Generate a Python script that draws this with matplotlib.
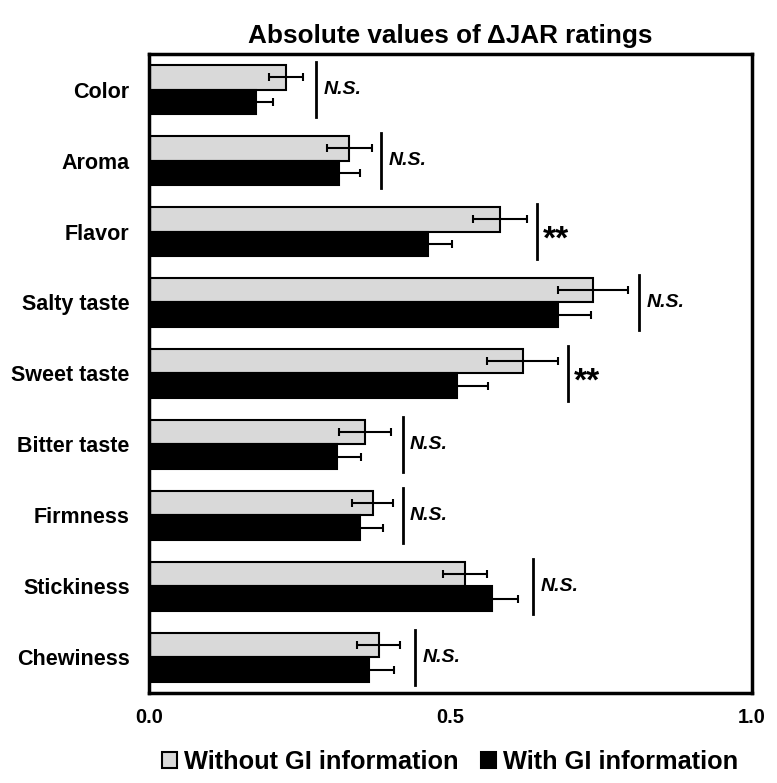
import numpy as np
import matplotlib.pyplot as plt

plt.rcParams['font.family'] = ['Liberation Sans', 'DejaVu Sans']

attributes = ['Color', 'Aroma', 'Flavor', 'Salty taste', 'Sweet taste',
              'Bitter taste', 'Firmness', 'Stickiness', 'Chewiness']
without_gi = [0.227, 0.332, 0.582, 0.736, 0.620, 0.358, 0.371, 0.524, 0.381]
without_err = [0.028, 0.037, 0.045, 0.058, 0.059, 0.043, 0.034, 0.036, 0.036]
with_gi = [0.177, 0.315, 0.463, 0.678, 0.511, 0.312, 0.350, 0.569, 0.365]
with_err = [0.028, 0.035, 0.040, 0.055, 0.051, 0.040, 0.038, 0.043, 0.041]
sig_pos = [0.277, 0.385, 0.643, 0.813, 0.695, 0.421, 0.421, 0.637, 0.441]
sig_label = ['N.S.', 'N.S.', '**', 'N.S.', '**', 'N.S.', 'N.S.', 'N.S.', 'N.S.']

fig = plt.figure(figsize=(7.77, 7.83), dpi=100)
ax = fig.add_axes([0.1918, 0.115, 0.776, 0.816])

y = np.arange(len(attributes))
h = 0.345
ekw = dict(ecolor='black', elinewidth=1.5, capsize=3, capthick=1.5)
ax.barh(y - h / 2, without_gi, height=h, xerr=without_err, color='#d9d9d9',
        edgecolor='black', linewidth=1.5, error_kw=ekw, label='Without GI information')
ax.barh(y + h / 2, with_gi, height=h, xerr=with_err, color='black',
        edgecolor='black', linewidth=1.5, error_kw=ekw, label='With GI information')

for i, (xp, lab) in enumerate(zip(sig_pos, sig_label)):
    ax.plot([xp, xp], [i - 0.39, i + 0.39], color='black', lw=2)
    if lab == '**':
        ax.text(xp + 0.01, i + 0.12, lab, fontsize=24, fontweight='bold',
                va='center', ha='left')
    else:
        ax.text(xp + 0.012, i, lab, fontsize=14, fontweight='bold',
                style='italic', va='center', ha='left')

ax.set_xlim(0, 1.0)
ax.set_ylim(len(attributes) - 0.5, -0.5)
ax.set_xticks([0, 0.5, 1.0])
ax.set_xticklabels(['0.0', '0.5', '1.0'])
ax.set_yticks(y)
ax.set_yticklabels(attributes)
ax.tick_params(axis='x', length=0, labelsize=14.5, pad=11)
ax.tick_params(axis='y', length=0, labelsize=15.5, pad=14)
for lbl in ax.get_xticklabels() + ax.get_yticklabels():
    lbl.set_fontweight('bold')
for s in ax.spines.values():
    s.set_linewidth(2.5)

ax.set_title('Absolute values of \u0394JAR ratings', fontsize=18.8,
             fontweight='bold', pad=8)

fig.legend(loc='center', bbox_to_anchor=(0.579, 0.027), ncol=2, frameon=False,
           prop={'size': 18.3, 'weight': 'bold'}, handlelength=0.6,
           handleheight=0.6, handletextpad=0.25, columnspacing=0.9)

fig.savefig('out.png', dpi=100)
